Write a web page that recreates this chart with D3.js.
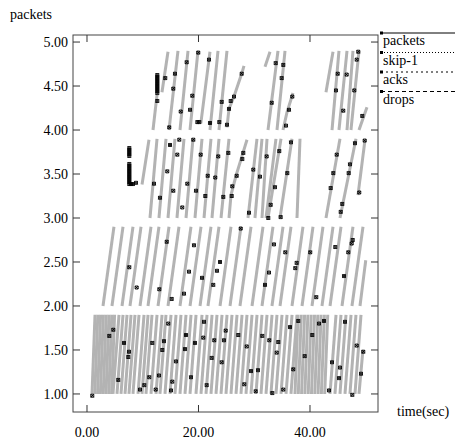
<!DOCTYPE html>
<html>
<head>
<meta charset="utf-8">
<script src="https://cdn.jsdelivr.net/npm/d3@7"></script>
<style>
  body { margin: 0; background: #fff; }
  text { font-family: "Liberation Serif", "DejaVu Serif", serif; font-size: 14px; fill: #000; }
</style>
</head>
<body>
<script>
// packet trace, one band per flow; stripes are [start time, end time] running band bottom -> top
var bandBottom = [1.0, 2.0, 3.0, 4.0],
    bandTop = [1.9, 2.9, 3.9, 4.9];

var band1 = [[0.90,1.44],[1.40,1.94],[1.90,2.44],[2.40,2.94],[2.91,3.45],[3.41,3.95],[3.91,4.45],[4.41,4.95],
  [4.66,5.74],[5.38,6.46],[6.10,7.18],[6.82,7.90],[7.53,8.61],[8.25,9.33],[9.15,10.23],[9.87,10.95],
  [10.58,11.66],[11.48,12.56],[12.38,13.46],[13.09,14.17],[13.99,15.07],[14.89,15.97],[15.78,16.86],
  [16.68,17.76],[17.58,18.66],[18.48,19.56],[19.55,20.63],[20.45,21.53],[21.35,22.43],[22.24,23.32],
  [23.14,24.22],[24.04,25.12],[24.93,26.01],[25.83,26.91],[26.73,27.81],[27.62,28.70],[28.52,29.60],
  [29.42,30.50],[30.31,31.39],[31.21,32.29],[32.11,33.19],[33.00,34.08],[33.90,34.98],[34.80,35.88],
  [35.70,36.78],[36.59,37.67],
  [37.31,37.85],[37.90,38.44],[38.49,39.03],[39.08,39.62],[39.68,40.22],[40.27,40.81],[40.86,41.40],
  [41.45,41.99],[42.04,42.58],[42.64,43.18],
  [43.59,44.67],[44.48,45.56],[45.38,46.46],[46.28,47.36],[47.17,48.25],[48.07,49.15]];

var band2 = [[2.87,4.84],[4.48,6.46],[6.28,8.25],[7.71,9.69],[9.51,11.48],[10.94,12.91],[12.74,14.71],
  [14.53,16.50],[16.68,18.65],[18.48,20.45],[20.27,22.24],[21.70,23.68],[23.86,25.83],[25.65,27.62],
  [27.44,29.42],[29.60,31.57],[31.39,33.36],[33.18,35.16],[34.62,36.59],[36.77,38.74],[38.57,40.54],
  [40.36,42.33],[42.15,44.13],[43.59,45.56],[45.74,47.71],[47.53,49.51]];

var band3 = [[11.30,12.56],[12.91,14.17],[14.53,15.78],[16.14,17.40],[17.76,19.01],[19.37,20.63],
  [20.99,22.24],[22.42,23.68],[24.04,25.47],[28.88,30.49],[30.13,31.39],[31.39,32.29],[32.11,33.90],
  [32.47,34.80],[34.62,36.77],[37.67,38.21],[42.87,45.38],[45.38,48.25]];

var band4 = [[14.71,16.32],[16.68,18.12],[18.48,19.91],[22.06,23.50],[23.68,25.11],[32.47,34.26],
  [34.08,35.52],[43.95,45.20],[45.20,46.64],[46.64,47.71],[47.35,48.79]];

// stripes that start or stop inside a band, or bend: [time, packets] points
var partStripes = [
  [[48.79,1.0],[49.50,1.5]],
  [[48.97,2.0],[50.00,2.52]],
  [[9.87,3.38],[11.12,3.89]],
  [[25.47,3.0],[25.83,3.26],[26.73,3.48],[27.98,3.74],[28.70,3.89]],
  [[48.61,3.26],[49.87,3.89]],
  [[11.84,4.0],[12.56,4.40]],
  [[13.45,4.43],[14.53,4.89]],
  [[19.73,4.09],[20.45,4.09],[22.06,4.89]],
  [[25.11,4.03],[25.47,4.24],[26.37,4.38],[27.80,4.65],[28.16,4.73]],
  [[31.93,4.72],[32.83,4.89]],
  [[35.16,4.0],[35.87,4.20],[36.95,4.42]],
  [[42.87,4.43],[44.13,4.89]],
  [[48.79,4.0],[50.22,4.26]]
];

var dropTimes1 = [0.95,4.72,4.00,6.64,7.53,7.41,5.61,9.51,10.28,11.17,12.32,12.91,11.71,13.51,13.81,14.58,
  15.96,17.76,17.58,18.65,19.37,15.30,15.07,20.99,20.86,21.47,22.37,22.83,24.16,24.57,24.88,27.14,28.22,
  28.65,29.42,30.26,30.67,31.44,32.70,33.24,34.31,34.03,35.21,36.41,37.00,37.90,39.05,40.41,41.61,42.51,
  43.41,43.95,45.38,45.20,46.28,47.59,48.38,49.15,49.56];
var dropPkts1 = [0.98,1.73,1.66,1.58,1.48,1.42,1.16,1.05,1.10,1.19,1.05,1.21,1.58,1.50,1.60,1.80,
  1.37,1.67,1.51,1.19,1.58,1.14,1.04,1.82,1.64,1.10,1.41,1.61,1.36,1.61,1.72,1.67,1.11,
  1.54,1.26,1.03,1.27,1.66,1.61,1.01,1.59,1.47,1.05,1.76,1.28,1.83,1.43,1.67,1.80,1.83,
  1.04,1.36,1.30,1.18,1.82,0.99,1.55,1.23,1.48];

var dropTimes2 = [7.59,8.91,12.97,14.30,15.19,17.40,18.30,19.19,20.63,22.65,23.32,23.86,27.57,31.93,32.65,
  33.54,35.57,37.36,37.61,40.05,41.13,44.54,46.10,46.87,47.48,47.66];
var dropPkts2 = [2.44,2.21,2.19,2.73,2.08,2.14,2.39,2.69,2.32,2.24,2.40,2.50,2.88,2.24,2.38,
  2.70,2.61,2.43,2.49,2.61,2.10,2.67,2.34,2.61,2.71,2.75];

var dropTimes3 = [29.06,32.52,34.74,45.51,14.89,16.56,19.07,16.20,20.39,23.55,25.35,14.40,21.65,23.01,26.85,
  12.02,15.48,17.99,19.55,21.22,24.45,26.06,25.96,13.09,17.09,8.79,28.04,27.86,29.83,32.23,31.03,34.49,
  33.72,32.95,36.59,35.93,44.79,44.18,43.71,48.07,47.17,46.94,45.79,49.81,48.84,
  7.59,7.59,7.59,7.59,7.59,7.59,7.59,7.59,7.59,7.59,7.59,7.59,7.59,7.59,7.59,7.59,7.89,8.25];
var dropPkts3 = [3.06,3.00,3.01,3.07,3.83,3.89,3.89,3.72,3.72,3.70,3.74,3.53,3.48,3.46,3.48,
  3.39,3.31,3.39,3.31,3.25,3.24,3.36,3.25,3.23,3.12,3.40,3.74,3.67,3.55,3.70,3.47,3.76,
  3.35,3.15,3.86,3.51,3.72,3.51,3.34,3.85,3.61,3.51,3.16,3.88,3.29,
  3.795,3.773,3.75,3.727,3.705,3.614,3.591,3.568,3.545,3.523,3.50,3.477,3.455,3.432,3.409,3.386,3.386,3.386];

var dropTimes4 = [19.96,21.88,17.88,15.78,27.75,14.04,15.48,18.89,26.37,12.61,25.78,24.16,18.48,25.47,16.81,
  20.14,19.80,22.06,23.73,25.11,14.76,33.85,35.21,34.92,33.13,36.83,36.23,35.70,48.66,48.38,44.97,46.58,
  44.66,47.95,45.97,49.38,
  12.61,12.61,12.61,12.61,12.61,12.61,12.61,12.61,12.61,12.61];
var dropPkts4 = [4.88,4.80,4.77,4.64,4.64,4.59,4.47,4.39,4.38,4.33,4.33,4.32,4.23,4.24,4.21,
  4.09,4.09,4.08,4.09,4.06,4.03,4.76,4.74,4.59,4.31,4.38,4.23,4.05,4.89,4.80,4.64,4.63,
  4.45,4.45,4.22,4.16,
  4.625,4.602,4.58,4.557,4.534,4.511,4.489,4.466,4.443,4.42];

var xTicks = [0, 20, 40],
    yTicks = [1.0, 1.5, 2.0, 2.5, 3.0, 3.5, 4.0, 4.5, 5.0],
    legendLabels = ["packets", "skip-1", "acks", "drops"];

function tracechart(){
  var width = 455, height = 440;
  var left = 73, right = 378, top = 35, bottom = 412;

  var x = d3.scaleLinear().domain([-2.51, 52.2]).range([left, right]);
  var y = d3.scaleLinear().domain([0.795, 5.08]).range([bottom, top]);

  var svg = d3.select("body").append("svg")
    .attr("width", width)
    .attr("height", height);

  var line = d3.line()
    .x(function(d) { return x(d[0]); })
    .y(function(d) { return y(d[1]); });

  // full-height stripes from each band
  var stripes = [];
  [band1, band2, band3, band4].forEach(function(band, b){
    band.forEach(function(s){
      stripes.push([[s[0], bandBottom[b]], [s[1], bandTop[b]]]);
    });
  });
  stripes = stripes.concat(partStripes);

  svg.append("g").selectAll("path")
      .data(stripes)
    .enter().append("path")
      .attr("d", line)
      .style("fill", "none")
      .style("stroke", "#b3b3b3")
      .style("stroke-width", 3.0);

  var drops = [];
  [[dropTimes1, dropPkts1], [dropTimes2, dropPkts2], [dropTimes3, dropPkts3], [dropTimes4, dropPkts4]]
    .forEach(function(p){
      p[0].forEach(function(t, i){ drops.push([t, p[1][i]]); });
    });

  svg.append("g").selectAll("path")
      .data(drops)
    .enter().append("path")
      .attr("transform", function(d) { return "translate(" + x(d[0]) + "," + y(d[1]) + ")"; })
      .attr("d", "M-1.5,-1.5h3v3h-3zM-1.5,-1.5l3,3M1.5,-1.5l-3,3")
      .style("fill", "none")
      .style("stroke", "#000")
      .style("stroke-width", 0.9);

  // frame and inward ticks
  svg.append("rect")
    .attr("x", left).attr("y", top)
    .attr("width", right - left).attr("height", bottom - top)
    .style("fill", "none")
    .style("stroke", "#444")
    .style("stroke-width", 1);

  var ticks = svg.append("g").style("stroke", "#333").style("stroke-width", 1);
  yTicks.forEach(function(v){
    ticks.append("line").attr("x1", left).attr("x2", left + 7).attr("y1", y(v)).attr("y2", y(v));
    ticks.append("line").attr("x1", right).attr("x2", right - 7).attr("y1", y(v)).attr("y2", y(v));
  });
  xTicks.forEach(function(v){
    ticks.append("line").attr("x1", x(v)).attr("x2", x(v)).attr("y1", bottom).attr("y2", bottom - 7);
    ticks.append("line").attr("x1", x(v)).attr("x2", x(v)).attr("y1", top).attr("y2", top + 7);
  });

  var fmt = d3.format(".2f");
  svg.append("g").selectAll("text")
      .data(yTicks)
    .enter().append("text")
      .attr("x", left - 5)
      .attr("y", function(d) { return y(d) + 5; })
      .style("text-anchor", "end")
      .text(fmt);

  svg.append("g").selectAll("text")
      .data(xTicks)
    .enter().append("text")
      .attr("x", function(d) { return x(d); })
      .attr("y", 437)
      .style("text-anchor", "middle")
      .text(fmt);

  svg.append("text").attr("x", 10).attr("y", 19).text("packets");
  svg.append("text").attr("x", 397).attr("y", 416).text("time(sec)");

  // legend
  var dash = [null, "1,2", "2,3", "4,3"];
  var leg = svg.append("g").selectAll("g")
      .data(legendLabels)
    .enter().append("g")
      .attr("transform", function(d, i) { return "translate(0," + (33 + i * 19.5) + ")"; });

  leg.append("line")
    .attr("x1", right + 3).attr("x2", width)
    .style("stroke", "#000")
    .style("stroke-width", 1)
    .style("stroke-dasharray", function(d, i) { return dash[i]; });
  leg.append("rect")
    .attr("x", right + 2).attr("y", -1.5).attr("width", 3).attr("height", 3)
    .style("fill", "#000");
  leg.append("text")
    .attr("x", right + 5)
    .attr("y", 12)
    .text(function(d) { return d; });
}

tracechart();
</script>
</body>
</html>
